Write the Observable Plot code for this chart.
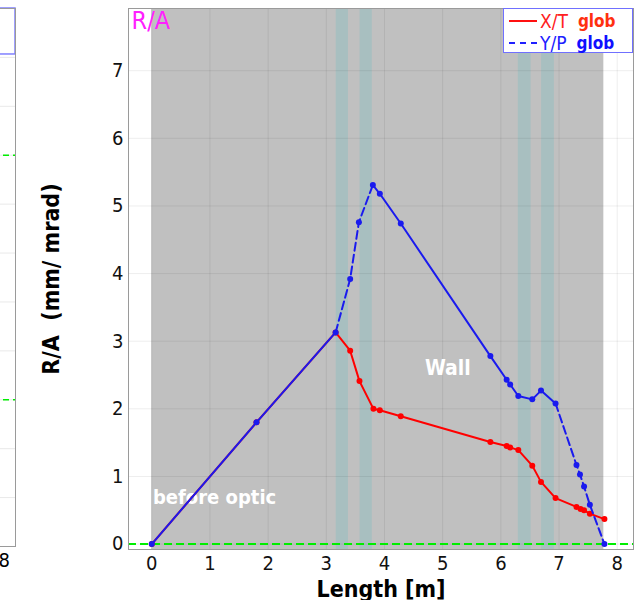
<!DOCTYPE html>
<html><head><meta charset="utf-8">
<script src="https://cdn.jsdelivr.net/npm/d3@7"></script>
<script src="https://cdn.jsdelivr.net/npm/@observablehq/plot@0.6"></script>
<style>
body{margin:0;background:#fff;}
#wrap{position:relative;width:641px;height:600px;overflow:hidden;font-family:"Liberation Sans Narrow","DejaVu Sans Condensed",sans-serif;}
#main{position:absolute;left:0;top:0;}
#side{position:absolute;left:-47px;top:0;}
#legend{position:absolute;left:503px;top:8px;width:128px;height:43px;border:1.5px solid #7070ff;background:#fff;font-family:"Liberation Sans Narrow","DejaVu Sans Condensed",sans-serif;}
#legend .row{position:absolute;left:5px;height:20px;display:flex;align-items:center;white-space:nowrap;}
#legend .smp{width:28px;height:0;margin-right:3px;}
#legend .k{font-size:19px;margin-right:10px;}
#legend .g{font-size:17px;font-weight:bold;}
#main svg text, #side svg text{font-family:"Liberation Sans Narrow","DejaVu Sans Condensed",sans-serif;}
</style>
</head><body>
<div id="wrap"><div id="side"></div><div id="main"></div>
<div id="legend">
  <div class="row" style="top:2px"><div class="smp" style="border-top:2px solid #ff1010"></div><span class="k" style="color:#ff2020">X/T</span><span class="g" style="color:#ff3010">glob</span></div>
  <div class="row" style="top:24px"><div class="smp" style="border-top:2px dashed #2020ff"></div><span class="k" style="color:#2020ff">Y/P</span><span class="g" style="color:#1010ff">glob</span></div>
</div>
</div>
<script>
// ---- data ----
const xTicks = [0, 1, 2, 3, 4, 5, 6, 7, 8];
const yTicks = [0, 1, 2, 3, 4, 5, 6, 7];
const wallStart = [0];
const wallEnd = [7.77];
const bandStart = [3.17, 3.58, 6.30, 6.70];
const bandEnd = [3.38, 3.79, 6.52, 6.92];
const redX = [0, 1.80, 3.16, 3.41, 3.57, 3.81, 3.92, 4.28, 5.82, 6.10, 6.16, 6.30, 6.54, 6.69, 6.94, 7.30, 7.37, 7.43, 7.53, 7.78];
const redY = [0, 1.80, 3.13, 2.86, 2.41, 2.00, 1.98, 1.89, 1.51, 1.45, 1.43, 1.39, 1.16, 0.92, 0.68, 0.55, 0.52, 0.50, 0.45, 0.37];
const blueX = [0, 1.80, 3.16, 3.41, 3.56, 3.80, 3.92, 4.28, 5.82, 6.10, 6.16, 6.30, 6.54, 6.69, 6.94, 7.30, 7.36, 7.43, 7.53, 7.78];
const blueY = [0, 1.80, 3.13, 3.92, 4.76, 5.31, 5.18, 4.74, 2.78, 2.43, 2.36, 2.19, 2.14, 2.27, 2.08, 1.17, 1.03, 0.85, 0.58, 0.00];
// dashed flag for each blue segment (point i -> i+1)
const blueSegDashed = [false, false, true, true, true, false, false, false, false, false, false, false, false, false, true, true, true, true, true];
const noteText = ["before optic", "Wall"];
const noteX = [0.02, 5.09];
const noteY = [0.69, 2.60];
const zeroLine = [0];
// left neighbouring panel (cropped)
const sideGridY = [1, 2, 3, 4, 5, 6, 7, 8, 9, 10];
const sideGreenY = [3, 8];
const sideXTicks = [8];

// ---- build ----
const red = redX.map((x, i) => ({x, y: redY[i]}));
const blue = blueX.map((x, i) => ({x, y: blueY[i]}));
const runs = [];
blueSegDashed.forEach((d, i) => {
  const last = runs[runs.length - 1];
  if (!last || last.dashed !== d) runs.push({dashed: d, pts: [blue[i], blue[i + 1]]});
  else last.pts.push(blue[i + 1]);
});
const blueSolid = [], blueDashed = [];
runs.forEach((r, k) => r.pts.forEach(p => (r.dashed ? blueDashed : blueSolid).push({...p, run: k})));
const bands = bandStart.map((s, i) => ({x1: s, x2: bandEnd[i]}));
const wall = wallStart.map((s, i) => ({x1: s, x2: wallEnd[i]}));
const notes = noteText.map((t, i) => ({t, x: noteX[i], y: noteY[i]}));

const main = Plot.plot({
  width: 641, height: 600,
  marginLeft: 128, marginRight: 8, marginTop: 8, marginBottom: 51,
  x: {domain: [-0.4, 8.28]},
  y: {domain: [-0.08, 7.92]},
  style: {background: "transparent", overflow: "visible"},
  marks: [
    Plot.rect(wall, {x1: "x1", x2: "x2", fill: "#c0c0c0"}),
    Plot.rect(bands, {x1: "x1", x2: "x2", fill: "#a8bfc0"}),
    Plot.gridX(xTicks, {stroke: "#000", strokeOpacity: 0.07, strokeWidth: 1}),
    Plot.gridY(yTicks, {stroke: "#000", strokeOpacity: 0.07, strokeWidth: 1}),
    Plot.axisX(xTicks, {tickSize: 0, tickPadding: 6, fontSize: 20, tickFormat: d3.format("d"), label: "Length [m]", labelAnchor: "center", labelOffset: 47, labelArrow: "none"}),
    Plot.axisY(yTicks, {tickSize: 0, tickPadding: 5, fontSize: 20, tickFormat: d3.format("d"), label: "R/A\u00a0 (mm/ mrad)", labelAnchor: "center", labelOffset: 86, labelArrow: "none"}),
    Plot.ruleY(zeroLine, {stroke: "#00ee00", strokeWidth: 2, strokeDasharray: "8,4"}),
    Plot.text(notes.filter(d => d.t !== "Wall"), {x: "x", y: "y", text: "t", textAnchor: "start", fill: "#ffffff", fontSize: 20, fontWeight: "bold"}),
    Plot.text(notes.filter(d => d.t === "Wall"), {x: "x", y: "y", text: "t", textAnchor: "middle", fill: "#ffffff", fontSize: 21, fontWeight: "bold"}),
    Plot.line(red, {x: "x", y: "y", stroke: "#ff0000", strokeWidth: 2}),
    Plot.dot(red, {x: "x", y: "y", fill: "#ff0000", r: 3}),
    Plot.line(blueSolid, {x: "x", y: "y", z: "run", stroke: "#1a1aee", strokeWidth: 2}),
    Plot.line(blueDashed, {x: "x", y: "y", z: "run", stroke: "#1a1aee", strokeWidth: 2, strokeDasharray: "8,4"}),
    Plot.dot(blue, {x: "x", y: "y", fill: "#1a1aee", r: 3}),
    Plot.text(["R/A"], {frameAnchor: "top-left", dx: 3, dy: 3, lineAnchor: "top", textAnchor: "start", fill: "#ff20ff", fontSize: 25}),
    Plot.frame({stroke: "#9a9a9a"})
  ]
});
document.getElementById("main").append(main);
main.querySelectorAll('[aria-label="x-axis label"] text, [aria-label="y-axis label"] text').forEach(t => {
  t.style.fontWeight = "bold";
  t.style.fontSize = "23px";
  t.style.fill = "#000";
});
main.querySelectorAll('[aria-label="x-axis tick label"] text, [aria-label="y-axis tick label"] text').forEach(t => t.style.fill = "#111");

const side = Plot.plot({
  width: 64, height: 600,
  marginLeft: 0, marginRight: 2, marginTop: 8, marginBottom: 54,
  x: {domain: [7.1, 8.2]},
  y: {domain: [0, 11], axis: null},
  style: {background: "transparent"},
  marks: [
    Plot.gridY(sideGridY, {stroke: "#000", strokeOpacity: 0.09}),
    Plot.ruleY(sideGreenY, {stroke: "#00ee00", strokeWidth: 1.5, strokeDasharray: "6,4"}),
    Plot.rect([{x1: 7.4, x2: 8.2, y1: 10.06, y2: 11}], {x1: "x1", x2: "x2", y1: "y1", y2: "y2", fill: "#fff", stroke: "#8080ff", strokeWidth: 1.5}),
    Plot.axisX(sideXTicks, {tickSize: 0, tickPadding: 6, fontSize: 20, label: null}),
    Plot.frame({stroke: "#9a9a9a"})
  ]
});
document.getElementById("side").append(side);
</script>
</body></html>
